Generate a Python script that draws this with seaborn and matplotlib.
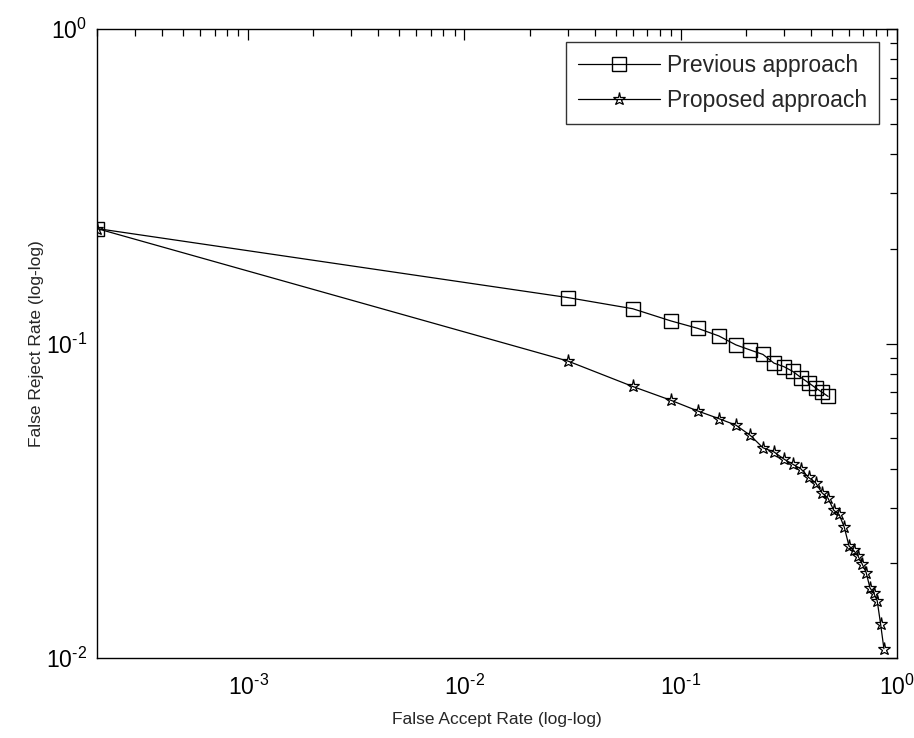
import matplotlib
matplotlib.use("Agg")
import matplotlib.pyplot as plt
import numpy as np
import pandas as pd
import seaborn as sns
from matplotlib.ticker import FuncFormatter, LogLocator

# 資料
far_previous = [0.0002, 0.03, 0.06, 0.09, 0.12, 0.15, 0.18, 0.21, 0.24,
                0.27, 0.30, 0.33, 0.36, 0.39, 0.42, 0.45, 0.48]
frr_previous = [0.232, 0.140, 0.129, 0.118, 0.1117, 0.1057, 0.099, 0.0953,
                0.0923, 0.0866, 0.0844, 0.0815, 0.0779, 0.075, 0.0723,
                0.070, 0.0679]

far_proposed = [0.0002, 0.03, 0.06, 0.09, 0.12, 0.15, 0.18, 0.21, 0.24,
                0.27, 0.30, 0.33, 0.36, 0.39, 0.42, 0.45, 0.48, 0.51,
                0.54, 0.57, 0.60, 0.63, 0.66, 0.69, 0.72, 0.75, 0.78,
                0.81, 0.84, 0.87]
frr_proposed = [0.232, 0.088, 0.073, 0.066, 0.061, 0.0577, 0.055, 0.051,
                0.0466, 0.0452, 0.0429, 0.0413, 0.0399, 0.0375, 0.0361,
                0.0335, 0.0322, 0.0295, 0.0286, 0.0261, 0.0227, 0.0220,
                0.0211, 0.0199, 0.0187, 0.0167, 0.0161, 0.0152, 0.0128,
                0.0107]

series_labels = ["Previous approach", "Proposed approach"]
x_label = "False Accept Rate (log-log)"
y_label = "False Reject Rate (log-log)"

sns.set_style("white")
plt.rcParams["font.family"] = ["Liberation Sans", "DejaVu Sans"]
plt.rcParams["mathtext.fontset"] = "custom"
plt.rcParams["mathtext.rm"] = "Liberation Sans"
plt.rcParams["mathtext.it"] = "Liberation Sans"


def pow10_label(val, pos):
    # MATLAB 風格: 10 與短橫線指數
    exp = int(np.round(np.log10(val)))
    sign = r"\text{-}" if exp < 0 else ""
    return rf"$\mathdefault{{10^{{{sign}{abs(exp)}}}}}$"


fig = plt.figure(figsize=(9.14, 7.38), dpi=100)
ax = fig.add_axes([0.1061, 0.1084, 0.8753, 0.8523])

df_prev = pd.DataFrame({"far": far_previous, "frr": frr_previous})
df_prop = pd.DataFrame({"far": far_proposed, "frr": frr_proposed})

sns.lineplot(data=df_prev, x="far", y="frr", ax=ax, estimator=None, sort=False,
             color="black", linewidth=0.9, marker="s", markersize=10.5,
             markerfacecolor="none", markeredgecolor="black",
             markeredgewidth=1.0, label=series_labels[0])
sns.lineplot(data=df_prop, x="far", y="frr", ax=ax, estimator=None, sort=False,
             color="black", linewidth=0.9, marker="*", markersize=9.5,
             markerfacecolor="none", markeredgecolor="black",
             markeredgewidth=0.9, label=series_labels[1])

ax.set_xscale("log")
ax.set_yscale("log")
ax.set_xlim(2e-4, 1)
ax.set_ylim(1e-2, 1)
ax.xaxis.set_major_locator(LogLocator(base=10, numticks=10))
ax.yaxis.set_major_locator(LogLocator(base=10, numticks=10))
ax.xaxis.set_minor_locator(LogLocator(base=10, subs=np.arange(2, 10), numticks=20))
ax.yaxis.set_minor_locator(LogLocator(base=10, subs=np.arange(2, 10), numticks=20))
ax.xaxis.set_major_formatter(FuncFormatter(pow10_label))
ax.yaxis.set_major_formatter(FuncFormatter(pow10_label))

ax.tick_params(which="both", direction="in", top=True, right=True,
               labelsize=16.5, colors="black", width=0.9)
ax.tick_params(which="major", length=7.7)
ax.tick_params(axis="x", which="major", pad=12)
ax.tick_params(axis="y", which="major", pad=7)
ax.tick_params(which="minor", length=4.8)
for side in ax.spines.values():
    side.set_color("black")
    side.set_linewidth(1.0)

ax.set_xlabel(x_label, fontsize=12.5, labelpad=9)
ax.set_ylabel(y_label, fontsize=12.5, labelpad=1.5)

leg = ax.legend(loc="upper right", bbox_to_anchor=(0.9775, 0.9793),
                borderaxespad=0, fontsize=16.5, frameon=True, fancybox=False,
                edgecolor="black", handlelength=3.6, handletextpad=0.3,
                borderpad=0.52, labelspacing=0.52)
leg.get_frame().set_linewidth(1.0)

fig.savefig("out.png", dpi=100, facecolor="white")
